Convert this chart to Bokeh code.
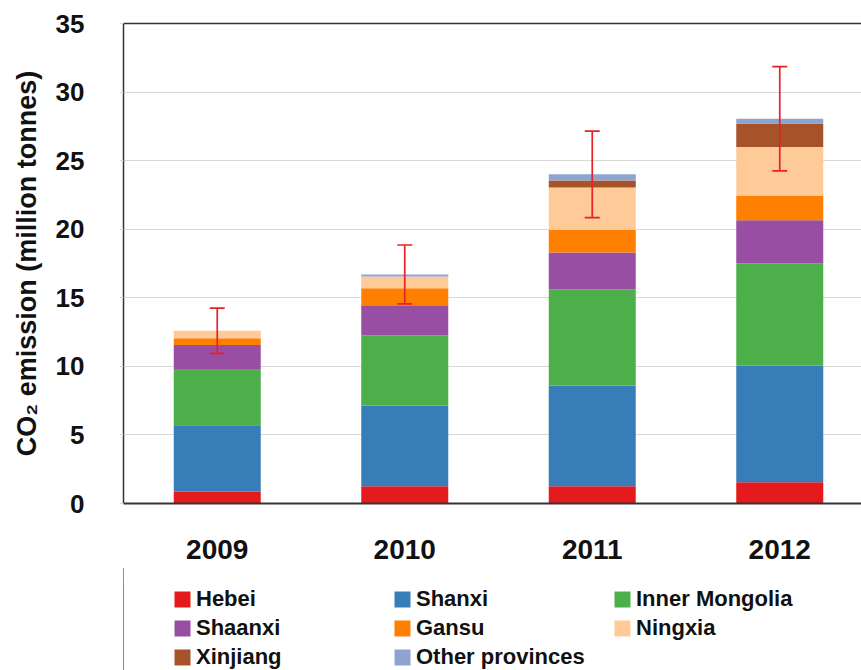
from bokeh.plotting import figure
from bokeh.layouts import column
from bokeh.models import (ColumnDataSource, Range1d, FixedTicker, LinearAxis,
                          Legend, LegendItem, Whisker, TeeHead)
from bokeh.embed import file_html
from bokeh.resources import INLINE

years = ["2009", "2010", "2011", "2012"]
provinces = ["Hebei", "Shanxi", "Inner Mongolia", "Shaanxi", "Gansu",
             "Ningxia", "Xinjiang", "Other provinces"]
hebei = [0.85, 1.25, 1.25, 1.55]
shanxi = [4.85, 5.9, 7.35, 8.5]
inner_mongolia = [4.1, 5.1, 7.0, 7.45]
shaanxi = [1.75, 2.2, 2.7, 3.15]
gansu = [0.5, 1.25, 1.65, 1.8]
ningxia = [0.55, 0.85, 3.1, 3.55]
xinjiang = [0.0, 0.0, 0.5, 1.7]
other = [0.0, 0.15, 0.45, 0.35]
error = [1.65, 2.15, 3.15, 3.8]
yticks = [0, 5, 10, 15, 20, 25, 30, 35]

colors = ["#E41A1C", "#377EB8", "#4DAF4A", "#984EA3", "#FF7F00",
          "#FDCA98", "#A6532A", "#8FA3CF"]

series = [hebei, shanxi, inner_mongolia, shaanxi, gansu, ningxia, xinjiang, other]
keys = ["s%d" % i for i in range(len(series))]
xs = list(range(len(years)))
data = {"x": xs}
for k, s in zip(keys, series):
    data[k] = s
totals = [sum(v) for v in zip(*series)]
data["lower"] = [t - e for t, e in zip(totals, error)]
data["upper"] = [t + e for t, e in zip(totals, error)]
source = ColumnDataSource(data)

FONT = "Liberation Sans"
TXT = "#111111"
ERR = "#E8202A"

p = figure(width=861, height=568, output_backend="svg", toolbar_location=None,
           x_range=Range1d(-0.5, 3.436), y_range=Range1d(0, 35),
           frame_width=738, frame_height=480,
           min_border_left=123, min_border_top=23, min_border_right=0,
           min_border_bottom=65)
p.outline_line_color = None
p.background_fill_color = "white"

renderers = p.vbar_stack(keys, x="x", width=0.464, color=colors, source=source,
                         line_color=None)

w = Whisker(base="x", lower="lower", upper="upper", source=source,
            line_color=ERR, line_width=1.7, level="overlay",
            upper_head=TeeHead(size=15, line_color=ERR, line_width=1.7),
            lower_head=TeeHead(size=15, line_color=ERR, line_width=1.7))
p.add_layout(w)

p.xgrid.grid_line_color = None
p.ygrid.grid_line_color = "#D9D9D9"
p.ygrid.grid_line_width = 1

p.yaxis.ticker = FixedTicker(ticks=yticks)
p.yaxis.axis_line_color = "#333333"
p.yaxis.axis_line_width = 1.5
p.yaxis.major_tick_line_color = "#D9D9D9"
p.yaxis.major_tick_out = 4
p.yaxis.major_tick_in = 0
p.yaxis.minor_tick_line_color = None
p.yaxis.major_label_standoff = 35
p.yaxis.major_label_text_font = FONT
p.yaxis.major_label_text_font_style = "bold"
p.yaxis.major_label_text_font_size = "26px"
p.yaxis.major_label_text_color = TXT
p.yaxis.axis_label = "CO\u2082 emission (million tonnes)"
p.yaxis.axis_label_text_font = FONT
p.yaxis.axis_label_text_font_style = "bold"
p.yaxis.axis_label_text_font_size = "27px"
p.yaxis.axis_label_text_color = TXT
p.yaxis.axis_label_standoff = 11

p.xaxis.ticker = FixedTicker(ticks=xs)
p.xaxis.major_label_overrides = {i: y for i, y in zip(xs, years)}
p.xaxis.axis_line_color = "#333333"
p.xaxis.axis_line_width = 2
p.xaxis.major_tick_line_color = None
p.xaxis.minor_tick_line_color = None
p.xaxis.major_label_standoff = 30
p.xaxis.major_label_text_font = FONT
p.xaxis.major_label_text_font_style = "bold"
p.xaxis.major_label_text_font_size = "28px"
p.xaxis.major_label_text_color = TXT

top = LinearAxis(ticker=FixedTicker(ticks=[]), major_label_text_font_size="0px",
                 major_tick_line_color=None, minor_tick_line_color=None,
                 axis_line_color="#333333", axis_line_width=1.5)
p.add_layout(top, "above")

# legend figure: same stacked series, kept out of its visible range
lg = figure(width=861, height=102, output_backend="svg", toolbar_location=None,
            x_range=Range1d(50, 51), y_range=Range1d(0, 1),
            min_border=0, min_border_left=0, min_border_right=0,
            min_border_top=0, min_border_bottom=0)
lg.axis.axis_line_color = None
lg.axis.major_tick_line_color = None
lg.axis.minor_tick_line_color = None
lg.axis.major_label_text_color = None
lg.axis.visible = False
lg.grid.visible = False
lg.outline_line_color = None
lrs = lg.vbar_stack(keys, x="x", width=0.464, color=colors, source=source,
                    line_color=None)
items = [LegendItem(label=name, renderers=[r]) for name, r in zip(provinces, lrs)]
legend = Legend(items=items, orientation="horizontal", ncols=3,
                location=(49, 0), border_line_color=None,
                background_fill_alpha=0, padding=0, margin=0,
                glyph_width=20, glyph_height=20, label_width=193,
                label_standoff=4, spacing=3,
                label_text_font=FONT, label_text_font_style="bold",
                label_text_font_size="22px", label_text_color=TXT)
lg.add_layout(legend, "center")

layout = column(p, lg, spacing=0)
open("out.html", "w").write(file_html(layout, INLINE))
